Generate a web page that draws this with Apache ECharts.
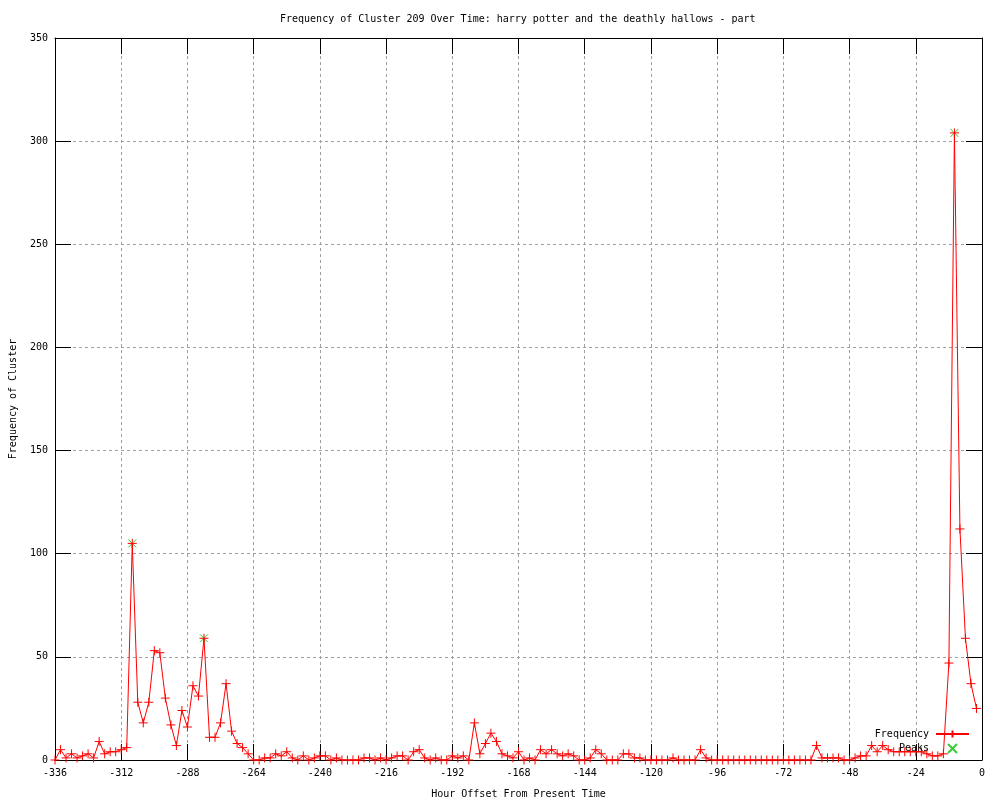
<!DOCTYPE html>
<html>
<head>
<meta charset="utf-8">
<script src="https://cdn.jsdelivr.net/npm/echarts@6/dist/echarts.min.js"></script>
<style>html,body{margin:0;padding:0;background:#fff}#c{width:1000px;height:800px}</style>
</head>
<body>
<div id="c"></div>
<script>
const titleText = 'Frequency of Cluster 209 Over Time: harry potter and the deathly hallows - part';
const xTicks = [-336,-312,-288,-264,-240,-216,-192,-168,-144,-120,-96,-72,-48,-24,0];
const yTicks = [0,50,100,150,200,250,300,350];
const hours = [
-336,-334,-332,-330,-328,-326,-324,-322,-320,-318,-316,-314,-312,-310,-308,-306,-304,-302,-300,-298,
-296,-294,-292,-290,-288,-286,-284,-282,-280,-278,-276,-274,-272,-270,-268,-266,-264,-262,-260,-258,
-256,-254,-252,-250,-248,-246,-244,-242,-240,-238,-236,-234,-232,-230,-228,-226,-224,-222,-220,-218,
-216,-214,-212,-210,-208,-206,-204,-202,-200,-198,-196,-194,-192,-190,-188,-186,-184,-182,-180,-178,
-176,-174,-172,-170,-168,-166,-164,-162,-160,-158,-156,-154,-152,-150,-148,-146,-144,-142,-140,-138,
-136,-134,-132,-130,-128,-126,-124,-122,-120,-118,-116,-114,-112,-110,-108,-106,-104,-102,-100,-98,
-96,-94,-92,-90,-88,-86,-84,-82,-80,-78,-76,-74,-72,-70,-68,-66,-64,-62,-60,-58,
-56,-54,-52,-50,-48,-46,-44,-42,-40,-38,-36,-34,-32,-30,-28,-26,-24,-22,-20,-18,
-16,-14,-12,-10,-8,-6,-4,-2];
const frequency = [
0,5,1,3,1,2,3,1,9,3,4,4,5,6,105,28,18,28,53,52,
30,17,7,24,16,36,31,59,11,11,18,37,14,8,6,3,0,0,1,1,
3,2,4,1,0,2,0,1,2,2,0,1,0,0,0,0,1,1,0,1,
0,1,2,2,0,4,5,1,0,1,0,0,2,1,2,0,18,3,8,13,
9,3,2,1,4,0,1,0,5,3,5,3,2,3,2,0,0,1,5,3,
0,0,0,3,3,1,1,0,0,0,0,0,1,0,0,0,0,5,1,0,
0,0,0,0,0,0,0,0,0,0,0,0,0,0,0,0,0,0,7,1,
1,1,1,0,0,1,2,2,7,4,7,5,4,4,4,4,4,4,3,2,
2,3,47,304,112,59,37,25];
const peakHours = [-308,-282,-10];
const peakValues = [105,59,304];

const FONT = 'DejaVu Sans Mono';
const plusPath = 'path://M0,4.5L9,4.5M4.5,0L4.5,9';
const crossPath = 'path://M0,0L9,9M9,0L0,9';

const chart = echarts.init(document.getElementById('c'), null, {renderer: 'canvas'});
const gridLine = {show: true, lineStyle: {color: '#a0a0a0', type: [3, 3], width: 1}};
const tickStyle = {show: true, inside: true, length: 16, lineStyle: {color: '#000', width: 1}};
const xBase = {type: 'value', min: xTicks[0], max: xTicks[xTicks.length-1], interval: 24};
const yBase = {type: 'value', min: yTicks[0], max: yTicks[yTicks.length-1], interval: 50};

chart.setOption({
  animation: false,
  backgroundColor: '#fff',
  textStyle: {fontFamily: FONT, fontSize: 10, color: '#000'},
  title: {text: titleText, left: 280, top: 14, padding: 0, textStyle: {fontFamily: FONT, fontSize: 10, fontWeight: 'normal', color: '#000'}},
  grid: {left: 55, right: 18, top: 38, bottom: 40, containLabel: false, outerBoundsMode: 'none'},
  legend: {
    orient: 'vertical', right: 30, top: 729, padding: 0, align: 'right', itemWidth: 33, itemHeight: 9, itemGap: 4,
    textStyle: {fontFamily: FONT, fontSize: 10, color: '#000', padding: [0, 2, 0, 0]},
    data: ['Frequency', 'Peaks']
  },
  xAxis: [
    Object.assign({}, xBase, {
      position: 'bottom', name: 'Hour Offset From Present Time', nameLocation: 'middle', nameGap: 29,
      nameTextStyle: {fontFamily: FONT, fontSize: 10, color: '#000'},
      axisLine: {show: true, onZero: false, lineStyle: {color: '#000', width: 1}},
      axisTick: tickStyle, splitLine: gridLine,
      axisLabel: {fontFamily: FONT, fontSize: 10, color: '#000', margin: 8}
    }),
    Object.assign({}, xBase, {
      position: 'top',
      axisLine: {show: true, onZero: false, lineStyle: {color: '#000', width: 1}},
      axisTick: tickStyle, splitLine: {show: false}, axisLabel: {show: false}
    })
  ],
  yAxis: [
    Object.assign({}, yBase, {
      position: 'left', name: 'Frequency of Cluster', nameLocation: 'middle', nameGap: 37, nameRotate: 90,
      nameTextStyle: {fontFamily: FONT, fontSize: 10, color: '#000'},
      axisLine: {show: true, onZero: false, lineStyle: {color: '#000', width: 1}},
      axisTick: tickStyle, splitLine: gridLine,
      axisLabel: {fontFamily: FONT, fontSize: 10, color: '#000', margin: 7}
    }),
    Object.assign({}, yBase, {
      position: 'right',
      axisLine: {show: true, onZero: false, lineStyle: {color: '#000', width: 1}},
      axisTick: tickStyle, splitLine: {show: false}, axisLabel: {show: false}
    })
  ],
  series: [
    {
      name: 'Frequency', type: 'line', xAxisIndex: 0, yAxisIndex: 0,
      data: hours.map((h, i) => [h, frequency[i]]),
      symbol: plusPath, symbolSize: 9, showAllSymbol: true, clip: false,
      lineStyle: {color: '#ff0000', width: 1},
      itemStyle: {color: '#ff0000', borderColor: '#ff0000', borderWidth: 1},
      emphasis: {disabled: true}
    },
    {
      name: 'Peaks', type: 'scatter', xAxisIndex: 0, yAxisIndex: 0,
      data: peakHours.map((h, i) => [h, peakValues[i]]),
      symbol: crossPath, symbolSize: 8,
      itemStyle: {color: '#00c000', borderColor: '#00c000', borderWidth: 1},
      emphasis: {disabled: true}
    }
  ]
});
</script>
</body>
</html>
